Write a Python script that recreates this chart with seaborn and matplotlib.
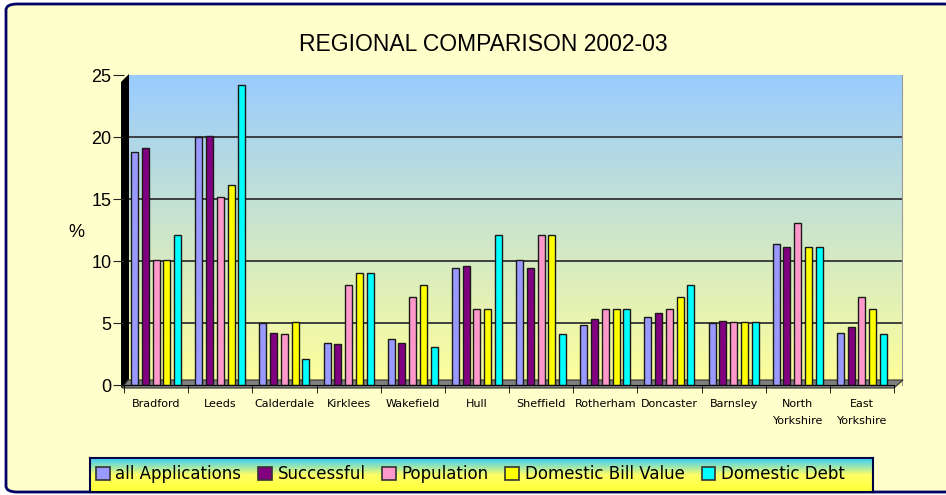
import numpy as np
import pandas as pd
import matplotlib
matplotlib.use('Agg')
import matplotlib.pyplot as plt
import matplotlib.patches as mpatches
from matplotlib.colors import LinearSegmentedColormap
import seaborn as sns

regions = ['Bradford', 'Leeds', 'Calderdale', 'Kirklees', 'Wakefield', 'Hull',
           'Sheffield', 'Rotherham', 'Doncaster', 'Barnsley', 'North\nYorkshire',
           'East\nYorkshire']
series = ['all Applications', 'Successful', 'Population', 'Domestic Bill Value',
          'Domestic Debt']
all_applications = [18.8, 20.0, 5.0, 3.4, 3.7, 9.4, 10.1, 4.8, 5.5, 5.0, 11.4, 4.2]
successful       = [19.1, 20.1, 4.2, 3.3, 3.4, 9.6, 9.4, 5.3, 5.8, 5.2, 11.1, 4.7]
population       = [10.1, 15.2, 4.1, 8.1, 7.1, 6.1, 12.1, 6.1, 6.1, 5.1, 13.1, 7.1]
bill_value       = [10.1, 16.1, 5.1, 9.0, 8.1, 6.1, 12.1, 6.1, 7.1, 5.1, 11.1, 6.1]
domestic_debt    = [12.1, 24.2, 2.1, 9.0, 3.1, 12.1, 4.1, 6.1, 8.1, 5.1, 11.1, 4.1]
colors = ['#9999FF', '#800080', '#FF99CC', '#FFFF00', '#00FFFF']

df = pd.DataFrame({'region': regions * 5,
                   'series': np.repeat(series, len(regions)),
                   'value': all_applications + successful + population + bill_value + domestic_debt})

W, H = 946, 495
fig = plt.figure(figsize=(W / 100, H / 100), dpi=100)
fig.patch.set_facecolor('white')

def fx(x): return x / W
def fy(y): return 1 - y / H

# outer rounded frame (right edge runs off the picture)
frame = mpatches.FancyBboxPatch((fx(6), fy(492)), fx(950), 488 / H,
                                boxstyle='round,pad=0,rounding_size=0.012',
                                transform=fig.transFigure, facecolor='#FFFFCC',
                                edgecolor='#000066', linewidth=2, zorder=-5)
fig.patches.append(frame)

grad = LinearSegmentedColormap.from_list('wall', ['#FFFF99', '#99CCFF'])
g = np.linspace(0, 1, 256).reshape(-1, 1)

# back wall
bg = fig.add_axes([fx(128), fy(385), fx(774), 310 / H], zorder=1)
bg.imshow(g, aspect='auto', cmap=grad, origin='lower', extent=[0, 1, 0, 25])
bg.set_xlim(0, 1)
bg.set_ylim(0, 25)
for v in [5, 10, 15, 20]:
    bg.axhline(v, color='#333333', lw=1.3)
bg.set_xticks([]); bg.set_yticks([])
for s in ['top', 'left', 'bottom']:
    bg.spines[s].set_visible(False)
bg.spines['right'].set_color('#999999')

# left wall and floor
fig.patches.append(mpatches.Polygon([(fx(121), fy(82)), (fx(129), fy(74)), (fx(129), fy(380)), (fx(121), fy(388))],
                                    closed=True, transform=fig.transFigure, facecolor='black', zorder=2))
fig.patches.append(mpatches.Polygon([(fx(122), fy(388)), (fx(894), fy(388)), (fx(903), fy(380)), (fx(128), fy(380))],
                                    closed=True, transform=fig.transFigure, facecolor='#808080',
                                    edgecolor='#333333', lw=0.8, zorder=2))

# bars
ax = fig.add_axes([fx(124), fy(385), fx(770), 310 / H], zorder=3)
ax.patch.set_alpha(0)
sns.barplot(data=df, x='region', y='value', hue='series', palette=colors, saturation=1,
            edgecolor='#1a1a1a', linewidth=1, width=0.84, gap=0.35, ax=ax)
ax.set_ylim(0, 25)
ax.set_xlim(-0.5, len(regions) - 0.5)
ax.set_xlabel('')
ax.set_ylabel('')
ax.set_yticks([0, 5, 10, 15, 20, 25])
ax.set_yticklabels([str(v) for v in [0, 5, 10, 15, 20, 25]], family='Liberation Sans')
ax.tick_params(axis='y', labelsize=13, length=8, pad=1, color='#222222')
ax.tick_params(axis='x', labelsize=8, length=0, pad=10)
ax.set_xticks(np.arange(len(regions)))
ax.set_xticklabels(regions, linespacing=1.9, va='top')
ax.set_xticks(np.arange(-0.5, len(regions)), minor=True)
ax.tick_params(axis='x', which='minor', length=6, direction='out', color='black')
for s in ['top', 'right', 'left']:
    ax.spines[s].set_visible(False)
ax.spines['bottom'].set_color('black')
ax.legend_.remove()

fig.text(fx(76), fy(233), '%', ha='center', va='center', fontsize=13, family='Liberation Sans')
fig.text(fx(483), fy(44.5), 'REGIONAL COMPARISON 2002-03', ha='center', va='center',
         fontsize=16.5, family='Liberation Sans')

# legend box with gradient
lg = fig.add_axes([fx(90), fy(492), fx(783), 34 / H], zorder=3)
lgrad = LinearSegmentedColormap.from_list('leg', ['#FFFF33', '#FFFF66', '#33CCFF'])
lg.imshow(g, aspect='auto', cmap=lgrad, origin='lower', extent=[0, 1, 0, 1])
lg.set_xticks([]); lg.set_yticks([])
for s in lg.spines.values():
    s.set_color('#000044'); s.set_linewidth(1.5)
handles = [mpatches.Patch(facecolor=c, edgecolor='#333333', lw=1.2) for c in colors]
lg.legend(handles, series, loc='center left', bbox_to_anchor=(0.0, 0.53), ncol=5, frameon=False,
          fontsize=12, handlelength=0.82, handleheight=0.82, handletextpad=0.35,
          columnspacing=1.0, borderaxespad=0, borderpad=0.35)

fig.savefig('out.png', dpi=100)
